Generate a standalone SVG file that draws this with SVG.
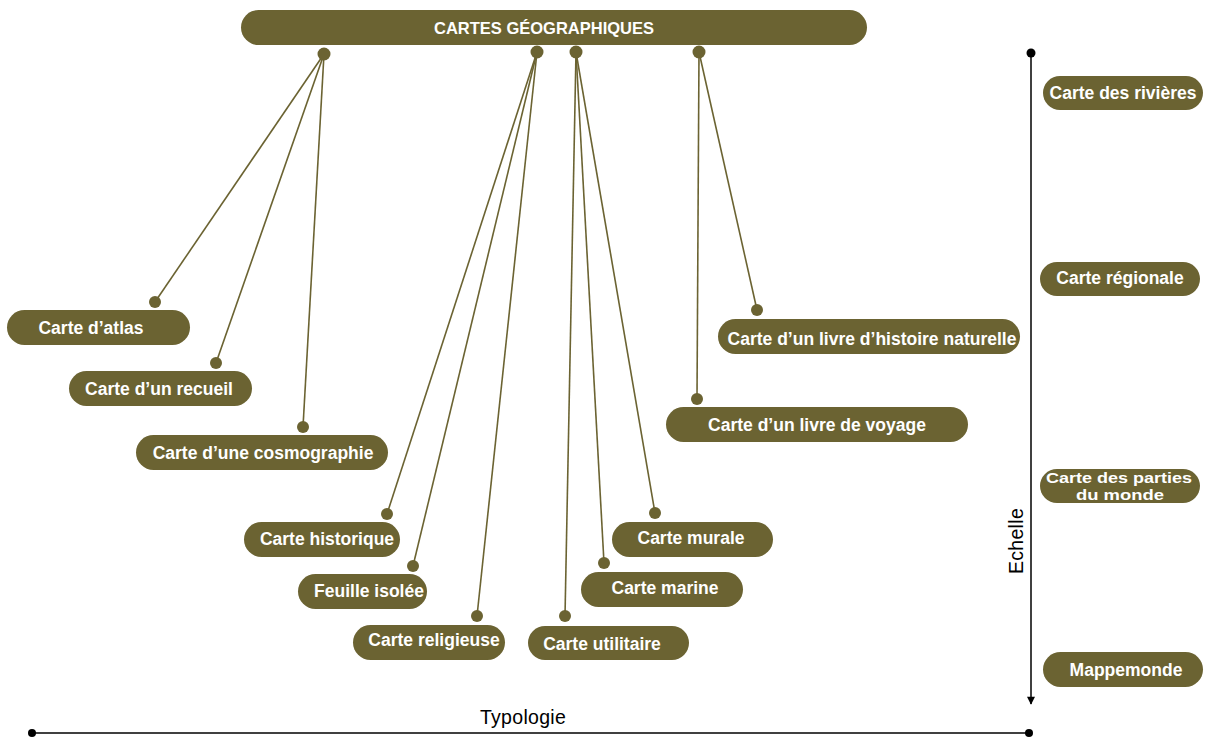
<svg xmlns="http://www.w3.org/2000/svg" width="1209" height="737" viewBox="0 0 1209 737">
<style>
.n rect{fill:#6b6332}
.n text{fill:#fff;font-family:"Liberation Sans",Arial,sans-serif;font-weight:bold;font-size:17.5px;text-anchor:middle;dominant-baseline:central}
.n text.sm{font-size:15.5px}
.n text.t{font-size:16.5px}
.c line{stroke:#6b6332;stroke-width:1.6}
.c circle{fill:#6b6332}
.ax{stroke:#000;stroke-width:1.5;fill:none}
.lab{font-family:"Liberation Sans",Arial,sans-serif;font-size:19.5px;letter-spacing:0.3px;fill:#000;text-anchor:middle}
</style>
<defs>
<marker id="arr" viewBox="0 0 10 10" refX="9" refY="5" markerWidth="14" markerHeight="8" orient="auto" markerUnits="userSpaceOnUse">
<path d="M0,0L10,5L0,10z" fill="#000"/>
</marker>
</defs>
<rect width="1209" height="737" fill="#fff"/>
<g id="connectors" class="c">
<line x1="324" y1="54" x2="155" y2="302"/>
<line x1="324" y1="54" x2="216" y2="363"/>
<line x1="324" y1="54" x2="303" y2="427"/>
<line x1="537" y1="52" x2="387" y2="514"/>
<line x1="537" y1="52" x2="413" y2="566"/>
<line x1="537" y1="52" x2="477" y2="616"/>
<line x1="576" y1="52" x2="565" y2="616"/>
<line x1="576" y1="52" x2="604" y2="563"/>
<line x1="576" y1="52" x2="655" y2="513"/>
<line x1="699" y1="52" x2="757" y2="310"/>
<line x1="699" y1="52" x2="697" y2="399"/>
<circle cx="324" cy="54" r="6.5"/>
<circle cx="537" cy="52" r="6.5"/>
<circle cx="576" cy="52" r="6.5"/>
<circle cx="699" cy="52" r="6.5"/>
<circle cx="155" cy="302" r="6"/>
<circle cx="216" cy="363" r="6"/>
<circle cx="303" cy="427" r="6"/>
<circle cx="387" cy="514" r="6"/>
<circle cx="413" cy="566" r="6"/>
<circle cx="477" cy="616" r="6"/>
<circle cx="565" cy="616" r="6"/>
<circle cx="604" cy="563" r="6"/>
<circle cx="655" cy="513" r="6"/>
<circle cx="757" cy="310" r="6"/>
<circle cx="697" cy="399" r="6"/>
</g>
<g id="axes">
<line class="ax" x1="1031" y1="53" x2="1031" y2="704" marker-end="url(#arr)"/>
<circle cx="1031" cy="53" r="4.5" fill="#000"/>
<line class="ax" x1="32" y1="733" x2="1029" y2="733"/>
<circle cx="32" cy="733" r="4" fill="#000"/>
<circle cx="1029" cy="733" r="4" fill="#000"/>
<text class="lab" x="523" y="724">Typologie</text>
<text class="lab" transform="translate(1023,541) rotate(-90)">Echelle</text>
</g>
<g id="title" class="n"><rect x="241" y="10" width="626" height="35" rx="17.5"/><text class="t" x="544" y="28">CARTES GÉOGRAPHIQUES</text></g>
<g id="atlas" class="n"><rect x="7" y="310" width="183" height="35" rx="17.5"/><text x="91" y="327.5">Carte d’atlas</text></g>
<g id="recueil" class="n"><rect x="69" y="371" width="183" height="35" rx="17.5"/><text x="159" y="389">Carte d’un recueil</text></g>
<g id="cosmographie" class="n"><rect x="136" y="435" width="252" height="35" rx="17.5"/><text x="263" y="453">Carte d’une cosmographie</text></g>
<g id="historique" class="n"><rect x="244" y="522" width="156" height="35" rx="17.5"/><text x="327" y="539">Carte historique</text></g>
<g id="feuille" class="n"><rect x="298" y="574" width="129" height="35" rx="17.5"/><text x="369" y="591">Feuille isolée</text></g>
<g id="religieuse" class="n"><rect x="353" y="625" width="152" height="35" rx="17.5"/><text x="434" y="640">Carte religieuse</text></g>
<g id="utilitaire" class="n"><rect x="528" y="626" width="161" height="34" rx="17"/><text x="602" y="644">Carte utilitaire</text></g>
<g id="marine" class="n"><rect x="581" y="572" width="162" height="35" rx="17.5"/><text x="665" y="588">Carte marine</text></g>
<g id="murale" class="n"><rect x="612" y="522" width="161" height="35" rx="17.5"/><text x="691" y="538">Carte murale</text></g>
<g id="histoire-naturelle" class="n"><rect x="718" y="319" width="302" height="35" rx="17.5"/><text x="872" y="339">Carte d’un livre d’histoire naturelle</text></g>
<g id="voyage" class="n"><rect x="666" y="407" width="302" height="35" rx="17.5"/><text x="817" y="425">Carte d’un livre de voyage</text></g>
<g id="rivieres" class="n"><rect x="1043" y="76" width="160" height="34" rx="17"/><text x="1123" y="93">Carte des rivières</text></g>
<g id="regionale" class="n"><rect x="1040" y="262" width="160" height="34" rx="17"/><text x="1120" y="278">Carte régionale</text></g>
<g id="parties-monde" class="n"><rect x="1040" y="469" width="160" height="34" rx="17"/><text class="sm" x="1119" y="477.5" textLength="146" lengthAdjust="spacingAndGlyphs">Carte des parties</text><text class="sm" x="1120" y="494" textLength="88" lengthAdjust="spacingAndGlyphs">du monde</text></g>
<g id="mappemonde" class="n"><rect x="1043" y="652" width="160" height="35" rx="17.5"/><text x="1126" y="670">Mappemonde</text></g>
</svg>
